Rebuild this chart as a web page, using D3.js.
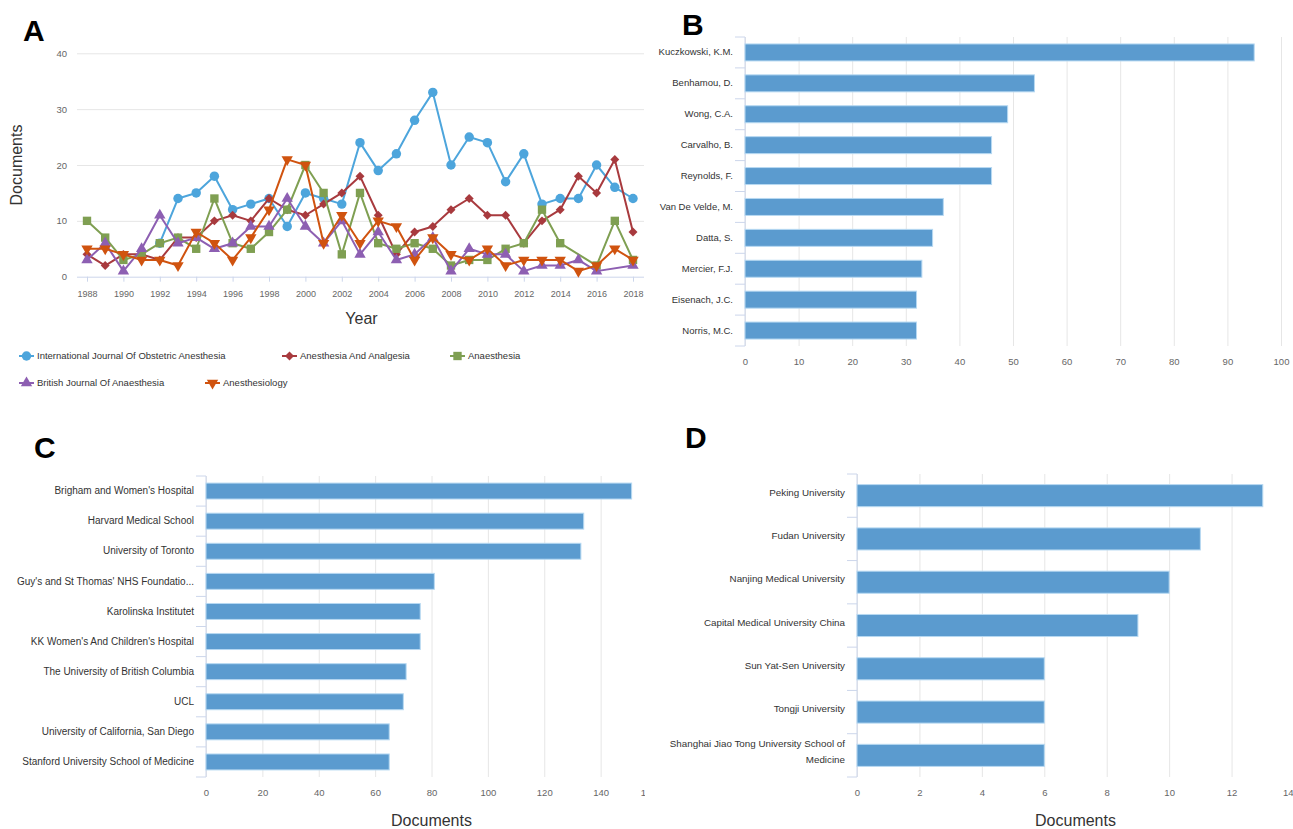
<!DOCTYPE html>
<html>
<head>
<meta charset="utf-8">
<script src="https://cdn.jsdelivr.net/npm/d3@7"></script>
<style>
  body { margin: 0; background: #fff; }
  svg text { font-family: "Liberation Sans", Arial, Helvetica, sans-serif; }
</style>
</head>
<body>
<div id="canvas"></div>
<script>
//
// Data
//
var years = [1988, 1989, 1990, 1991, 1992, 1993, 1994, 1995, 1996, 1997,
             1998, 1999, 2000, 2001, 2002, 2003, 2004, 2005, 2006, 2007,
             2008, 2009, 2010, 2011, 2012, 2013, 2014, 2015, 2016, 2017, 2018];
var yearTicks = [1988, 1990, 1992, 1994, 1996, 1998, 2000, 2002, 2004, 2006,
                 2008, 2010, 2012, 2014, 2016, 2018];
var docTicksA = [0, 10, 20, 30, 40];

var ijoa = [null, null, null, null, 6, 14, 15, 18, 12, 13, 14, 9, 15, 14, 13, 24,
            19, 22, 28, 33, 20, 25, 24, 17, 22, 13, 14, 14, 20, 16, 14];
var anesAnalg = [4, 2, 4, 4, 3, 7, 7, 10, 11, 10, 14, 12, 11, 13, 15, 18,
                 11, 4, 8, 9, 12, 14, 11, 11, 6, 10, 12, 18, 15, 21, 8];
var anaesthesia = [10, 7, 3, 4, 6, 7, 5, 14, 6, 5, 8, 12, 20, 15, 4, 15,
                   6, 5, 6, 5, 2, 3, 3, 5, 6, 12, 6, null, 2, 10, 3];
var bja = [3, 6, 1, 5, 11, 6, 7, 5, 6, 9, 9, 14, 9, 6, 10, 4,
           8, 3, 4, 7, 1, 5, 4, 4, 1, 2, 2, 3, 1, null, 2];
var anesthesiology = [5, 5, 4, 3, 3, 2, 8, 6, 3, 7, 12, 21, 20, 6, 11, 6,
                      10, 9, 3, 7, 4, 3, 5, 2, 3, 3, 3, 1, 2, 5, 3];

var seriesNames = ['International Journal Of Obstetric Anesthesia', 'Anesthesia And Analgesia',
                   'Anaesthesia', 'British Journal Of Anaesthesia', 'Anesthesiology'];
var seriesColors = ['#4da5dc', '#a83a3e', '#7f9f52', '#8d5fb2', '#d0530f'];

var authors = ['Kuczkowski, K.M.', 'Benhamou, D.', 'Wong, C.A.', 'Carvalho, B.', 'Reynolds, F.',
               'Van De Velde, M.', 'Datta, S.', 'Mercier, F.J.', 'Eisenach, J.C.', 'Norris, M.C.'];
var authorDocs = [95, 54, 49, 46, 46, 37, 35, 33, 32, 32];
var authorTicks = [0, 10, 20, 30, 40, 50, 60, 70, 80, 90, 100];

var institutions = ["Brigham and Women's Hospital", 'Harvard Medical School', 'University of Toronto',
                    "Guy's and St Thomas' NHS Foundatio...", 'Karolinska Institutet',
                    "KK Women's And Children's Hospital", 'The University of British Columbia', 'UCL',
                    'University of California, San Diego', 'Stanford University School of Medicine'];
var institutionDocs = [151, 134, 133, 81, 76, 76, 71, 70, 65, 65];
var institutionTicks = [0, 20, 40, 60, 80, 100, 120, 140, 160];

var chinese = ['Peking University', 'Fudan University', 'Nanjing Medical University',
               'Capital Medical University China', 'Sun Yat-Sen University', 'Tongji University',
               'Shanghai Jiao Tong University School of Medicine'];
var chineseDocs = [13, 11, 10, 9, 6, 6, 6];
var chineseTicks = [0, 2, 4, 6, 8, 10, 12, 14];

//
// Styles
//
var gridColor = '#e6e6e6';
var axisColor = '#ccd6eb';
var labelColor = '#666666';
var catColor = '#333333';
var barColor = '#5b9bcf';
var barStroke = '#b7d9f2';

var svg = d3.select('#canvas').append('svg')
  .attr('width', 1293)
  .attr('height', 829);

// panel letters
var letter = function (t, x, y) {
  svg.append('text').text(t)
    .attr('x', x).attr('y', y)
    .attr('font-size', '30px')
    .attr('font-weight', 'bold')
    .attr('fill', '#000');
};
letter('A', 23, 41);
letter('B', 682, 35);
letter('C', 34, 458);
letter('D', 685, 448);

// wraps long category labels like Highcharts does
var wrap = function (sel, width) {
  sel.each(function () {
    var text = d3.select(this);
    var words = text.text().split(/\s+/);
    var x = text.attr('x');
    text.text(null);
    var lines = [];
    var line = [];
    var tspan = text.append('tspan');
    words.forEach(function (w) {
      line.push(w);
      tspan.text(line.join(' '));
      if (tspan.node().getComputedTextLength() > width && line.length > 1) {
        line.pop();
        lines.push(line.join(' '));
        line = [w];
      }
      tspan.text(line.join(' '));
    });
    lines.push(line.join(' '));
    text.text(null);
    var lh = 16;
    lines.forEach(function (l, i) {
      text.append('tspan').text(l)
        .attr('x', x)
        .attr('dy', i === 0 ? (-(lines.length - 1) * lh / 2) + 'px' : lh + 'px');
    });
  });
};

//
// Panel A: line chart
//
var drawLines = function () {
  var g = svg.append('g');
  var left = 77, right = 644;
  var x = d3.scaleLinear().domain([1988, 2018]).range([87, 633]);
  var y = d3.scaleLinear().domain([0, 40]).range([276.7, 53.3]);

  // grid + y labels
  var ya = g.append('g').attr('transform', 'translate(' + left + ',0)')
    .call(d3.axisLeft(y).tickValues(docTicksA).tickSize(-(right - left)).tickPadding(10));
  ya.select('.domain').remove();
  ya.selectAll('line').attr('stroke', function (d) { return d === 0 ? axisColor : gridColor; });
  ya.selectAll('text').attr('fill', labelColor).attr('font-size', '9.5px');

  // x axis
  var xa = g.append('g').attr('transform', 'translate(0,' + y(0) + ')')
    .call(d3.axisBottom(x).tickValues(yearTicks).tickFormat(d3.format('d')).tickSize(5).tickPadding(9));
  xa.select('.domain').remove();
  xa.selectAll('line').attr('stroke', axisColor);
  xa.selectAll('text').attr('fill', labelColor).attr('font-size', '9px');

  g.append('text').text('Documents')
    .attr('transform', 'translate(22,165) rotate(-90)')
    .attr('text-anchor', 'middle')
    .attr('font-size', '16px').attr('fill', catColor);
  g.append('text').text('Year')
    .attr('x', (left + right) / 2 + 1).attr('y', 324)
    .attr('text-anchor', 'middle')
    .attr('font-size', '16px').attr('fill', catColor);

  var series = [ijoa, anesAnalg, anaesthesia, bja, anesthesiology];
  var symbols = [
    { type: d3.symbolCircle, size: 70, rot: 0 },
    { type: d3.symbolSquare, size: 40, rot: 45 },
    { type: d3.symbolSquare, size: 70, rot: 0 },
    { type: d3.symbolTriangle, size: 56, rot: 0 },
    { type: d3.symbolTriangle, size: 56, rot: 180 }
  ];

  var line = d3.line()
    .x(function (d) { return x(d.year); })
    .y(function (d) { return y(d.value); });

  series.forEach(function (s, i) {
    var pts = years.map(function (yr, j) { return { year: yr, value: s[j] }; })
      .filter(function (d) { return d.value !== null; });
    g.append('path').datum(pts)
      .attr('d', line)
      .attr('fill', 'none')
      .attr('stroke', seriesColors[i])
      .attr('stroke-width', 2)
      .attr('stroke-linejoin', 'round');
    g.selectAll('.m' + i).data(pts).enter().append('path')
      .attr('class', 'm' + i)
      .attr('d', d3.symbol().type(symbols[i].type).size(symbols[i].size))
      .attr('transform', function (d) {
        return 'translate(' + x(d.year) + ',' + y(d.value) + ') rotate(' + symbols[i].rot + ')';
      })
      .attr('fill', seriesColors[i]);
  });

  // legend (layout positions taken from the figure)
  var legendPos = [[19, 356], [282, 356], [450, 356], [19, 383], [205, 383]];
  seriesNames.forEach(function (n, i) {
    var lx = legendPos[i][0], ly = legendPos[i][1];
    g.append('line')
      .attr('x1', lx).attr('x2', lx + 15)
      .attr('y1', ly).attr('y2', ly)
      .attr('stroke', seriesColors[i]).attr('stroke-width', 2);
    g.append('path')
      .attr('d', d3.symbol().type(symbols[i].type).size(symbols[i].size))
      .attr('transform', 'translate(' + (lx + 7.5) + ',' + ly + ') rotate(' + symbols[i].rot + ')')
      .attr('fill', seriesColors[i]);
    g.append('text').text(n)
      .attr('x', lx + 18).attr('y', ly).attr('dy', '0.35em')
      .attr('font-size', '9.5px').attr('fill', catColor);
  });
};
drawLines();

//
// Horizontal bar charts B, C, D
//
var drawBars = function (opt) {
  var g = svg.append('g');
  if (opt.clip) {
    svg.append('clipPath').attr('id', opt.id)
      .append('rect').attr('x', opt.clip[0]).attr('y', opt.clip[1])
      .attr('width', opt.clip[2]).attr('height', opt.clip[3]);
    g.attr('clip-path', 'url(#' + opt.id + ')');
  }
  var x = d3.scaleLinear().domain(opt.domain).range(opt.xr);
  var y = d3.scaleBand().domain(opt.cats).range(opt.yr)
    .paddingInner(opt.pad).paddingOuter(opt.pad / 2);

  // value grid and labels
  var xa = g.append('g').attr('transform', 'translate(0,' + opt.yr[1] + ')')
    .call(d3.axisBottom(x).tickValues(opt.ticks).tickSize(-(opt.yr[1] - opt.yr[0])).tickPadding(opt.tickPad));
  xa.select('.domain').remove();
  xa.selectAll('line').attr('stroke', gridColor);
  xa.selectAll('text').attr('fill', labelColor).attr('font-size', '9.5px');
  if (opt.lastLabelEnd) {
    xa.selectAll('.tick:last-of-type text')
      .attr('text-anchor', 'end')
      .attr('x', opt.lastLabelEnd - x(opt.domain[1]));
  }

  // category axis line and ticks between categories
  g.append('line')
    .attr('x1', opt.xr[0]).attr('x2', opt.xr[0])
    .attr('y1', opt.yr[0]).attr('y2', opt.yr[1])
    .attr('stroke', axisColor);
  var bounds = opt.cats.map(function (c) { return y(c) - y.step() * y.paddingInner() / 2; });
  bounds.push(opt.yr[1]);
  g.selectAll('.ctick').data(bounds).enter().append('line')
    .attr('class', 'ctick')
    .attr('x1', opt.xr[0] - 10).attr('x2', opt.xr[0])
    .attr('y1', function (d) { return d; }).attr('y2', function (d) { return d; })
    .attr('stroke', axisColor);

  // bars
  g.selectAll('.bar').data(opt.values).enter().append('rect')
    .attr('class', 'bar')
    .attr('x', x(0))
    .attr('y', function (d, i) { return y(opt.cats[i]); })
    .attr('width', function (d) { return x(d) - x(0); })
    .attr('height', y.bandwidth())
    .attr('fill', barColor)
    .attr('stroke', barStroke)
    .attr('stroke-width', 1);

  // category labels
  var ya = g.append('g').attr('transform', 'translate(' + opt.xr[0] + ',0)')
    .call(d3.axisLeft(y).tickSize(0).tickPadding(12));
  ya.select('.domain').remove();
  ya.selectAll('text').attr('fill', catColor).attr('font-size', opt.catFont);
  if (opt.wrap) ya.selectAll('text').call(wrap, opt.wrap);

  if (opt.title) {
    g.append('text').text(opt.title)
      .attr('x', (opt.xr[0] + opt.xr[1]) / 2).attr('y', 826)
      .attr('text-anchor', 'middle')
      .attr('font-size', '16px').attr('fill', catColor);
  }
};

drawBars({
  cats: authors, values: authorDocs, ticks: authorTicks, catFont: '9.5px',
  domain: [0, 100], xr: [745, 1281], yr: [37, 346], pad: 0.45, tickPad: 12
});

drawBars({
  id: 'clipC', clip: [0, 420, 645, 409], catFont: '10px',
  cats: institutions, values: institutionDocs, ticks: institutionTicks,
  domain: [0, 160], xr: [206, 657], yr: [476, 777], pad: 0.47, tickPad: 12,
  lastLabelEnd: 656, title: 'Documents'
});

drawBars({
  cats: chinese, values: chineseDocs, ticks: chineseTicks, catFont: '9.8px',
  domain: [0, 14], xr: [857, 1294], yr: [474, 777], pad: 0.49, tickPad: 12,
  lastLabelEnd: 1293, wrap: 178, title: 'Documents'
});
</script>
</body>
</html>
